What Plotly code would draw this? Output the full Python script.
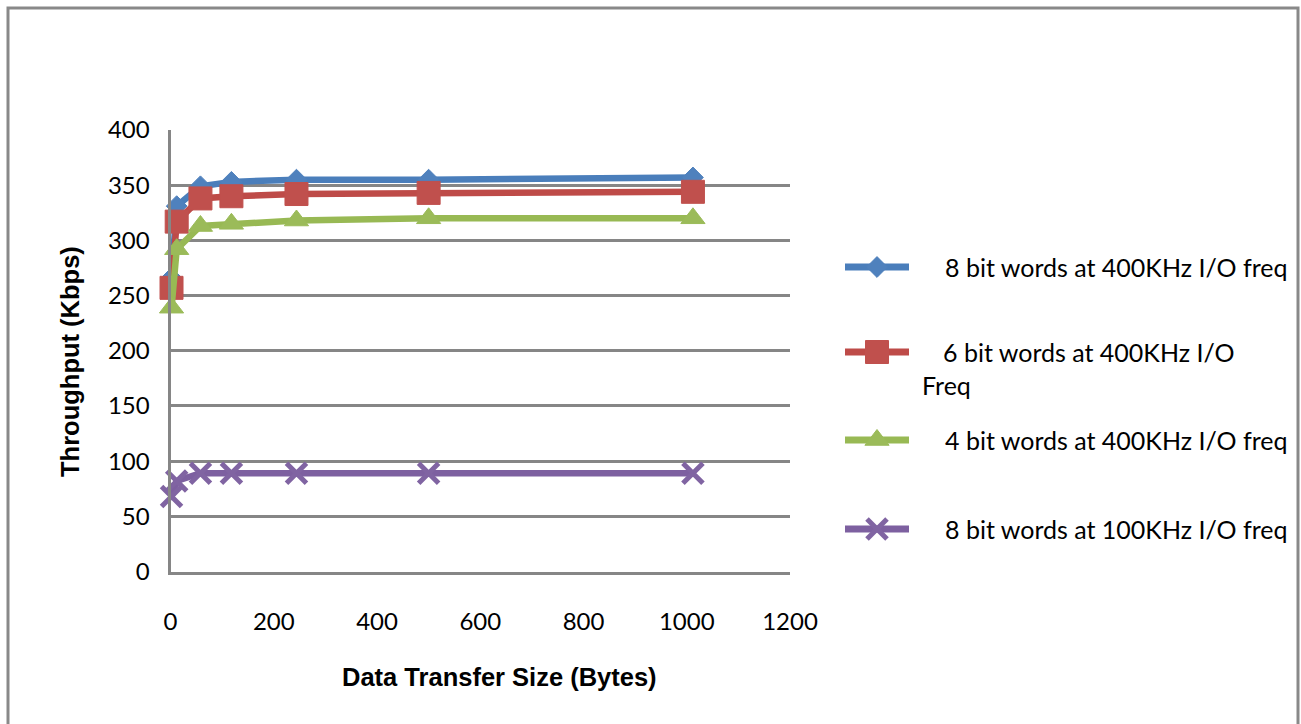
import plotly.graph_objects as go

# Throughput vs. transfer size for different word widths / I/O clock rates
size_bytes = [2, 12, 58, 118, 244, 500, 1012]
tp_8bit_400k = [266, 331, 349, 353, 355, 355, 357]
tp_6bit_400k = [257, 317, 338, 340, 342, 343, 344]
tp_4bit_400k = [239, 292, 313, 315, 318, 320, 320]
tp_8bit_100k = [68, 82, 89, 89, 89, 89, 89]

series_names = [
    "8 bit words at 400KHz I/O freq",
    "6 bit words at 400KHz I/O Freq",
    "4 bit words at 400KHz I/O freq",
    "8 bit words at 100KHz I/O freq",
]
series_values = [tp_8bit_400k, tp_6bit_400k, tp_4bit_400k, tp_8bit_100k]

x_ticks = [0, 200, 400, 600, 800, 1000, 1200]
y_ticks = [0, 50, 100, 150, 200, 250, 300, 350, 400]

line_colors = ["#4A7EBB", "#BE4B48", "#98B954", "#7D60A0"]
marker_colors = ["#4F81BD", "#C0504D", "#9BBB59", "#8064A2"]
symbols = ["diamond", "square", "triangle-up", "x-thin"]
marker_sizes = [16, 23, 21, 20]

W, H = 1301, 724
GRID = "#868686"
TICK_FONT = dict(family="Lato", size=24, color="#000000")
LEGEND_FONT = dict(family="Lato", size=25, color="#000000")
TITLE_FONT = dict(family="Liberation Sans", size=25.5, color="#000000")

# plot area in pixels
PL, PR, PT, PB = 170.5, 790, 130, 571.5


def px(x):
    return x / W


def py(y):
    return 1 - y / H


def marker_style(i):
    if symbols[i] == "x-thin":
        return dict(symbol="x-thin", size=marker_sizes[i],
                    line=dict(color=marker_colors[i], width=5))
    return dict(symbol=symbols[i], size=marker_sizes[i], color=marker_colors[i],
                line=dict(color=marker_colors[i], width=1))


fig = go.Figure()

for i, vals in enumerate(series_values):
    fig.add_trace(go.Scatter(
        x=size_bytes, y=vals, mode="lines+markers", name=series_names[i],
        line=dict(color=line_colors[i], width=6.5),
        marker=marker_style(i), showlegend=False, cliponaxis=False,
        xaxis="x", yaxis="y",
    ))

# hand-drawn legend on a pixel-space overlay axis
legend_rows = [267, 352, 440, 529]
for i, yrow in enumerate(legend_rows):
    fig.add_trace(go.Scatter(
        x=[845, 909], y=[yrow, yrow], mode="lines",
        line=dict(color=line_colors[i], width=7),
        showlegend=False, hoverinfo="skip", xaxis="x2", yaxis="y2",
    ))
    fig.add_trace(go.Scatter(
        x=[877], y=[yrow], mode="markers", marker=marker_style(i),
        showlegend=False, hoverinfo="skip", xaxis="x2", yaxis="y2",
    ))

legend_text = [
    (943, 267, "8 bit words at 400KHz I/O freq"),
    (941, 352, "6 bit words at 400KHz I/O"),
    (920, 385, "Freq"),
    (943, 440, "4 bit words at 400KHz I/O freq"),
    (943, 529, "8 bit words at 100KHz I/O freq"),
]
annotations = [
    dict(x=px(x0), y=py(y0), xref="paper", yref="paper", text=t,
         showarrow=False, xanchor="left", yanchor="middle", font=LEGEND_FONT)
    for x0, y0, t in legend_text
]
annotations.append(dict(
    x=px(70), y=py(362), xref="paper", yref="paper",
    text="<b>Throughput (Kbps)</b>", textangle=-90, showarrow=False,
    xanchor="center", yanchor="middle", font=TITLE_FONT))
annotations.append(dict(
    x=px(499), y=py(677), xref="paper", yref="paper",
    text="<b>Data Transfer Size (Bytes)</b>", showarrow=False,
    xanchor="center", yanchor="middle", font=TITLE_FONT))

fig.update_layout(
    template="none",
    width=W, height=H, autosize=False,
    margin=dict(l=0, r=0, t=0, b=0, pad=0),
    paper_bgcolor="white", plot_bgcolor="rgba(0,0,0,0)",
    xaxis=dict(
        domain=[px(PL), px(PR)], range=[0, 1200], tickvals=x_ticks,
        showgrid=False, zeroline=False, showline=True, linecolor=GRID,
        linewidth=3, ticks="", ticklabelstandoff=27, tickfont=TICK_FONT,
        anchor="y", automargin=False,
    ),
    yaxis=dict(
        domain=[py(PB), py(PT)], range=[0, 400], tickvals=y_ticks,
        showgrid=True, gridcolor=GRID, gridwidth=3, zeroline=False,
        showline=True, linecolor=GRID, linewidth=3, ticks="",
        ticklabelstandoff=13, tickfont=TICK_FONT, anchor="x",
        automargin=False,
    ),
    xaxis2=dict(domain=[0, 1], range=[0, W], visible=False, anchor="y2",
                fixedrange=True, automargin=False),
    yaxis2=dict(domain=[0, 1], range=[H, 0], visible=False, anchor="x2",
                fixedrange=True, automargin=False),
    annotations=annotations,
    shapes=[dict(type="rect", xref="paper", yref="paper",
                 x0=px(8), x1=px(1298), y0=py(740), y1=py(8),
                 line=dict(color="#898989", width=3), layer="above")],
)

fig.write_html("out.html", config={"displayModeBar": False})
